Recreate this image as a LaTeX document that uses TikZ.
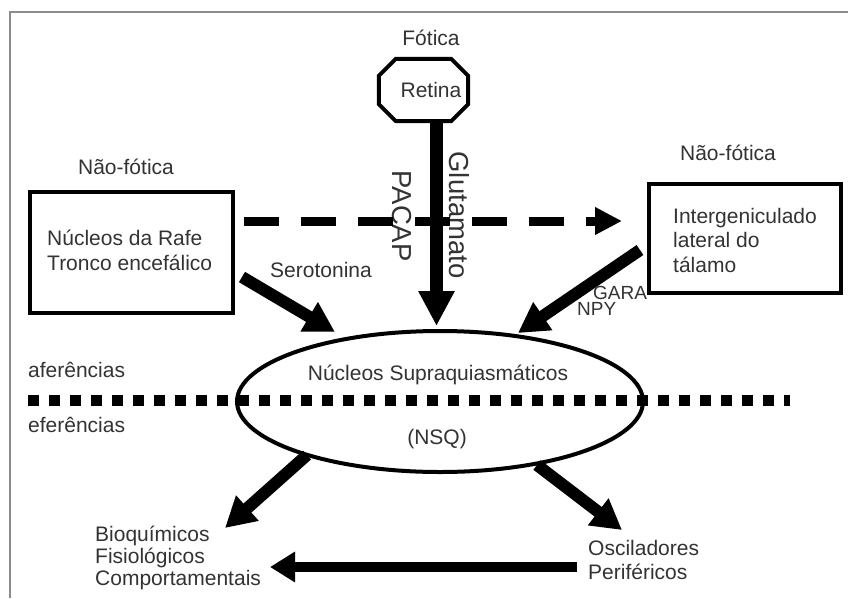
\documentclass[tikz,border=0pt]{standalone}
\usepackage{fontspec}
\setmainfont{Liberation Sans}
\usetikzlibrary{arrows.meta,calc,shapes.geometric}
\definecolor{txtcol}{HTML}{333333}
\definecolor{framecol}{HTML}{8C8C8C}
\begin{document}
\begin{tikzpicture}[x=1pt,y=-1pt,
  lbl/.style={text=txtcol,font=\fontsize{21}{25}\selectfont,inner sep=0pt},
  lblsmall/.style={text=txtcol,font=\fontsize{19}{22}\selectfont,inner sep=0pt},
  bigrot/.style={text=txtcol,font=\fontsize{27.5}{30}\selectfont,inner sep=0pt,rotate=-90},
  boxnode/.style={draw=black,line width=4.5pt,inner sep=0pt},
  fat/.style={line width=12pt,-{Triangle[length=30pt,width=32pt]}},
]
\useasboundingbox (0,0) rectangle (848,598);
\fill[white] (0,0) rectangle (848,598);
\draw[framecol,line width=2pt] (10,598) -- (10,12) -- (848,12);

% boxes
\node[boxnode,minimum width=203,minimum height=121] (rafe) at (131.5,252.5) {};
\node[boxnode,minimum width=192,minimum height=109] (igl) at (745,238.5) {};
\node[lbl,anchor=north west,align=left] (rafetxt) at (47,230) {Núcleos da Rafe\\Tronco encefálico};
\node[lbl,anchor=north west,align=left,font=\fontsize{21}{24.5}\selectfont] (igltxt) at (673,208) {Intergeniculado\\lateral do\\tálamo};
\node[lbl,anchor=base] (naofot1) at (126,174.5) {Não-fótica};
\node[lbl,anchor=base] (naofot2) at (728,160.5) {Não-fótica};

% retina
\node[inner sep=0pt,minimum width=89,minimum height=62] (retina) at (423.5,90) {};
\draw[line width=4pt,line join=miter]
  ($(retina.north west)+(17,0)$) -- ($(retina.north east)+(-17,0)$) --
  ($(retina.north east)+(0,17)$) -- ($(retina.south east)+(0,-17)$) --
  ($(retina.south east)+(-17,0)$) -- ($(retina.south west)+(17,0)$) --
  ($(retina.south west)+(0,-17)$) -- ($(retina.north west)+(0,17)$) -- cycle;
\node[lbl] (retinatxt) at (431,90) {Retina};
\node[lbl,anchor=base] (fotica) at (431,45.5) {Fótica};

% ellipse
\node[draw,ellipse,line width=4pt,minimum width=406,minimum height=141,inner sep=0pt] (nsq) at (440,401.5) {};
\node[lbl,anchor=base] (nsqtxt) at (438,380.5) {Núcleos Supraquiasmáticos};
\node[lbl,anchor=base] (nsqabbr) at (437,444.5) {(NSQ)};

% dotted separator
\draw[line width=11pt,dash pattern=on 11pt off 10pt] (28,400) -- (790,400);
\node[lbl,anchor=base west] (afer) at (28,377.5) {aferências};
\node[lbl,anchor=base west] (efer) at (28,432.5) {eferências};

% glutamate arrow
\coordinate (glutip) at (436.5,326);
\draw[line width=13pt,-{Triangle[length=35pt,width=34pt]}] (retina.south -| glutip) -- (glutip);
\node[bigrot] (glu) at (459,215) {Glutamato};
\node[bigrot] (pacap) at (402,216) {PACAP};

% dashed arrow
\coordinate (dashtip) at (622,221);
\draw[line width=9pt,dash pattern=on 35pt off 22pt,-{Triangle[length=27pt,width=26pt]}]
  ($(rafe.east |- dashtip)+(9,0)$) -- (dashtip);

% serotonina
\coordinate (ser0) at (242,277);
\coordinate (ser1) at (335,332);
\draw[fat] (ser0) -- (ser1);
\node[lbl,anchor=base] (sertxt) at (321,277) {Serotonina};

% gaba / npy
\coordinate (gab0) at (640,250);
\coordinate (gab1) at (518,333);
\draw[fat] (gab0) -- (gab1);
\node[lblsmall,anchor=base west] (gara) at (593,299) {GARA};
\node[lblsmall,anchor=base west] (npy) at (577,315) {NPY};

% efferent arrows
\coordinate (ll0) at (307,455);
\coordinate (ll1) at (225,528);
\draw[fat] (ll0) -- (ll1);
\coordinate (lr0) at (537,465);
\coordinate (lr1) at (622,530);
\draw[fat] (lr0) -- (lr1);

\node[lbl,anchor=north west,align=left,font=\fontsize{21}{22}\selectfont] (bio) at (95,526) {Bioquímicos\\Fisiológicos\\Comportamentais};
\node[lbl,anchor=north west,align=left,font=\fontsize{21}{24}\selectfont] (osc) at (588,540) {Osciladores\\Periféricos};

\coordinate (bot0) at (577,567);
\coordinate (bot1) at (270,567);
\draw[line width=10pt,-{Triangle[length=25pt,width=29pt]}] (bot0) -- (bot1);
\end{tikzpicture}
\end{document}
